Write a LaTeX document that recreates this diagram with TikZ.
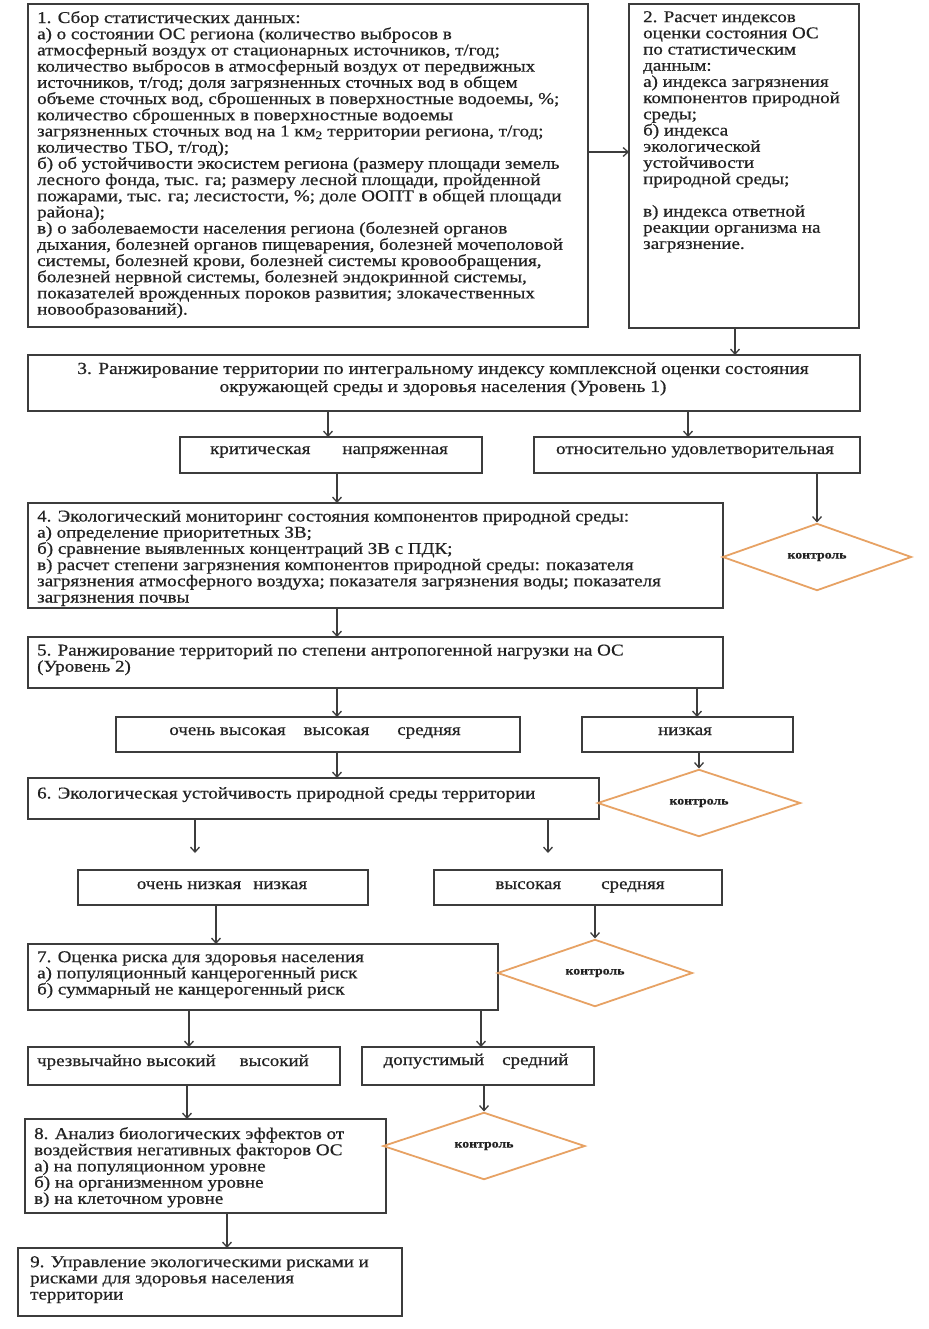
\documentclass[tikz,border=0pt]{standalone}
\usepackage{fontspec}
\setmainfont{Liberation Serif}[FakeStretch=1.15,FakeBold=0.6]
\usetikzlibrary{shapes.geometric,arrows.meta,calc}
\definecolor{boxc}{HTML}{3C3C3C}
\definecolor{txtc}{HTML}{222222}
\definecolor{orc}{HTML}{E7A264}
\tikzset{
  box/.style={draw=boxc, line width=1.4pt, anchor=north west, inner sep=0pt, outer sep=0pt},
  txt/.style={anchor=north west, inner sep=0pt, align=left, text=txtc, font=\fontsize{16.5}{16.2}\selectfont},
  ctxt/.style={inner sep=0pt, align=center, text=txtc, font=\fontsize{16.9}{18}\selectfont},
  ltxt/.style={anchor=base, inner sep=0pt, text=txtc, font=\fontsize{16.5}{18}\selectfont},
  dia/.style={diamond, draw=orc, line width=1.8pt, inner sep=0pt, text=txtc, font=\fontsize{12}{13}\selectfont\bfseries},
  arr/.style={draw=boxc, line width=1.3pt, -{Straight Barb[length=5pt,width=9pt]}}
}
\begin{document}
\begin{tikzpicture}[x=1pt,y=-1pt]
\useasboundingbox[fill=white] (0,0) rectangle (928,1329);
% boxes
\node[box, minimum width=560pt, minimum height=323pt] (b1) at (28,4) {};
\node[box, minimum width=230pt, minimum height=324pt] (b2) at (629,4) {};
\node[box, minimum width=832pt, minimum height=56pt] (b3) at (28,355) {};
\node[box, minimum width=302pt, minimum height=36pt] (b3a) at (180,437) {};
\node[box, minimum width=326pt, minimum height=36pt] (b3b) at (534,437) {};
\node[box, minimum width=695pt, minimum height=105pt] (b4) at (28,503) {};
\node[box, minimum width=695pt, minimum height=51pt] (b5) at (28,637) {};
\node[box, minimum width=404pt, minimum height=35pt] (b5a) at (116,717) {};
\node[box, minimum width=211pt, minimum height=35pt] (b5b) at (582,717) {};
\node[box, minimum width=571pt, minimum height=41pt] (b6) at (28,778) {};
\node[box, minimum width=290pt, minimum height=35pt] (b6a) at (78,870) {};
\node[box, minimum width=288pt, minimum height=35pt] (b6b) at (434,870) {};
\node[box, minimum width=470pt, minimum height=66pt] (b7) at (28,944) {};
\node[box, minimum width=312pt, minimum height=38pt] (b7a) at (28,1047) {};
\node[box, minimum width=232pt, minimum height=38pt] (b7b) at (362,1047) {};
\node[box, minimum width=361pt, minimum height=94pt] (b8) at (25,1119) {};
\node[box, minimum width=384pt, minimum height=68pt] (b9) at (18,1248) {};
% diamonds
\node[dia, minimum width=189pt, minimum height=62pt] (d1) at (817,557) {контроль};
\node[dia, minimum width=203pt, minimum height=59pt] (d2) at (699,803) {контроль};
\node[dia, minimum width=195pt, minimum height=62pt] (d3) at (595,973) {контроль};
\node[dia, minimum width=202pt, minimum height=63pt] (d4) at (484,1146) {контроль};
% texts
\node[txt] (t1) at (37,11) {1. Сбор  статистических данных:\\
а) о состоянии ОС  региона (количество выбросов в\\
атмосферный воздух от стационарных источников, т/год;\\
количество выбросов в атмосферный воздух от передвижных\\
источников, т/год; доля загрязненных сточных вод в общем\\
объеме сточных вод, сброшенных в поверхностные водоемы, \%;\\
количество сброшенных в поверхностные водоемы\\
загрязненных сточных вод на 1 км\textsubscript{2} территории региона, т/год;\\
количество ТБО, т/год);\\
б) об устойчивости экосистем региона (размеру площади земель\\
лесного фонда, тыс. га; размеру лесной площади, пройденной\\
пожарами, тыс. га; лесистости, \%; доле ООПТ в общей площади\\
района);\\
в) о заболеваемости населения региона (болезней органов\\
дыхания, болезней органов пищеварения, болезней мочеполовой\\
системы, болезней крови, болезней системы кровообращения,\\
болезней нервной системы, болезней эндокринной системы,\\
показателей врожденных пороков развития; злокачественных\\
новообразований).};
\node[txt] (t2) at (643,11) {2. Расчет индексов\\
оценки состояния ОС\\
по статистическим\\
данным:\\
а) индекса  загрязнения\\
компонентов природной\\
среды;\\
б) индекса\\
экологической\\
устойчивости\\
природной среды;\\[16.2pt]
в) индекса ответной\\
реакции организма на\\
загрязнение.};
\node[ctxt] (t3) at (443,379) {3. Ранжирование территории по интегральному индексу  комплексной оценки состояния\\
окружающей среды и здоровья населения (Уровень 1)};
\node[ltxt] (t3a) at (329,454) {критическая\hspace{32pt}напряженная};
\node[ltxt] (t3b) at (695,454) {относительно удовлетворительная};
\node[txt] (t4) at (37,510) {4. Экологический мониторинг  состояния компонентов природной среды:\\
а) определение приоритетных ЗВ;\\
б) сравнение выявленных концентраций ЗВ с ПДК;\\
в) расчет степени загрязнения компонентов природной среды: показателя\\
загрязнения атмосферного воздуха; показателя загрязнения воды; показателя\\
загрязнения почвы};
\node[txt] (t5) at (37,644) {5. Ранжирование территорий по степени антропогенной нагрузки на ОС\\
(Уровень 2)};
\node[ltxt] (t5a) at (315,735) {очень высокая\hspace{18pt}высокая\hspace{28pt}средняя};
\node[ltxt] (t5b) at (685,735) {низкая};
\node[txt] (t6) at (37,787) {6. Экологическая устойчивость природной среды территории};
\node[ltxt] (t6a) at (222,889) {очень низкая\hspace{12pt}низкая};
\node[ltxt] (t6b) at (580,889) {высокая\hspace{40pt}средняя};
\node[txt] (t7) at (37,951) {7. Оценка риска для здоровья населения\\
а) популяционный канцерогенный риск\\
б) суммарный не канцерогенный риск};
\node[ltxt] (t7a) at (173,1066) {чрезвычайно высокий\hspace{24pt}высокий};
\node[ltxt] (t7b) at (476,1065) {допустимый\hspace{18pt}средний};
\node[txt] (t8) at (34,1127) {8. Анализ биологических эффектов от\\
воздействия негативных факторов ОС\\
а) на популяционном уровне\\
б) на организменном уровне\\
в) на клеточном уровне};
\node[txt] (t9) at (30,1256) {9. Управление экологическими рисками и\\
рисками для здоровья населения\\
территории};
% arrow positions
\coordinate (y1) at (0,152);
\coordinate (x2) at (735,0);
\coordinate (x3) at (328,0);
\coordinate (x4) at (688,0);
\coordinate (x5) at (337,0);
\coordinate (x9) at (697,0);
\coordinate (e1) at (195,853);
\coordinate (e2) at (548,853);
\coordinate (x14) at (216,0);
\coordinate (x16) at (189,0);
\coordinate (x17) at (481,0);
\coordinate (x18) at (187,0);
\coordinate (x20) at (227,0);
% connectors
\draw[arr] (b1.east |- y1) -- (b2.west |- y1);
\draw[arr] (x2 |- b2.south) -- (x2 |- b3.north);
\draw[arr] (x3 |- b3.south) -- (x3 |- b3a.north);
\draw[arr] (x4 |- b3.south) -- (x4 |- b3b.north);
\draw[arr] (x5 |- b3a.south) -- (x5 |- b4.north);
\draw[arr] (d1.north |- b3b.south) -- (d1.north);
\draw[arr] (x5 |- b4.south) -- (x5 |- b5.north);
\draw[arr] (x5 |- b5.south) -- (x5 |- b5a.north);
\draw[arr] (x9 |- b5.south) -- (x9 |- b5b.north);
\draw[arr] (x5 |- b5a.south) -- (x5 |- b6.north);
\draw[arr] (d2.north |- b5b.south) -- (d2.north);
\draw[arr] (e1 |- b6.south) -- (e1);
\draw[arr] (e2 |- b6.south) -- (e2);
\draw[arr] (x14 |- b6a.south) -- (x14 |- b7.north);
\draw[arr] (d3.north |- b6b.south) -- (d3.north);
\draw[arr] (x16 |- b7.south) -- (x16 |- b7a.north);
\draw[arr] (x17 |- b7.south) -- (x17 |- b7b.north);
\draw[arr] (x18 |- b7a.south) -- (x18 |- b8.north);
\draw[arr] (d4.north |- b7b.south) -- (d4.north);
\draw[arr] (x20 |- b8.south) -- (x20 |- b9.north);
\end{tikzpicture}
\end{document}
